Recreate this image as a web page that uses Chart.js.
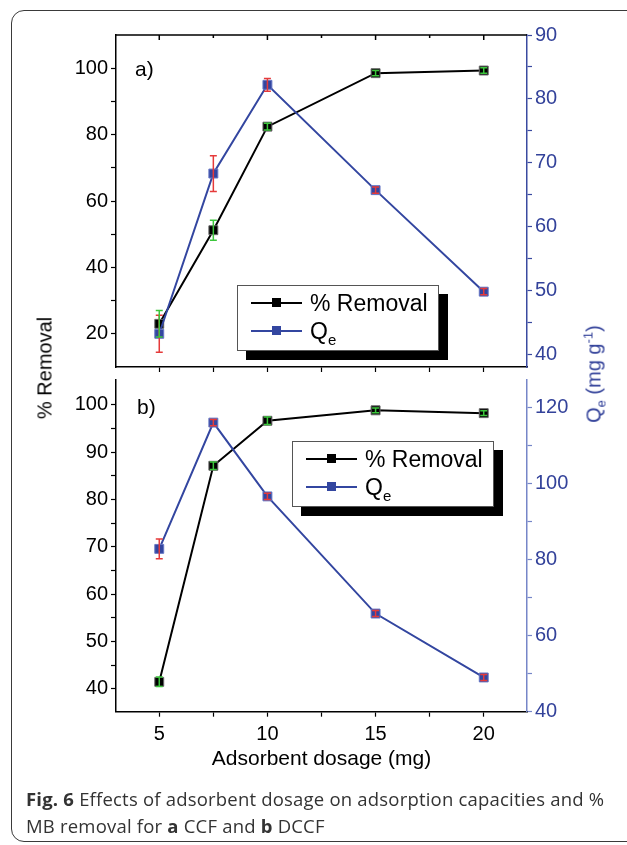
<!DOCTYPE html>
<html>
<head>
<meta charset="utf-8">
<script src="https://cdn.jsdelivr.net/npm/chart.js@4.4.1/dist/chart.umd.min.js"></script>
<style>
  body { margin: 0; background: #fff; width: 627px; height: 845px; overflow: hidden; position: relative;
         font-family: "Liberation Sans", Arial, sans-serif; }
  #frame { position: absolute; left: 11px; top: 10px; width: 700px; height: 830px;
           border: 1.5px solid #3a3a3a; border-radius: 13px; }
  #topWrap { position: absolute; left: 0; top: 0; width: 627px; height: 382px; }
  #botWrap { position: absolute; left: 0; top: 365px; width: 627px; height: 420px; }
  .legend { position: absolute; width: 200px; height: 64px; background: #fff;
            border: 1.5px solid #555; box-shadow: 9px 9px 0 #000; font-size: 23px; }
  .legend .row { position: absolute; left: 0; height: 28px; width: 200px; }
  .legend .ln { position: absolute; left: 13px; top: 13px; width: 51px; height: 2px; }
  .legend .mk { position: absolute; left: 34px; top: 9px; width: 9px; height: 9px; }
  .legend .tx { position: absolute; left: 72px; top: 0; line-height: 28px; white-space: nowrap; }
  .legend sub { font-size: 15px; vertical-align: -6px; line-height: 0; }
  .lab { position: absolute; font-size: 21px; line-height: 24px; }
  .ytitle { position: absolute; font-size: 20px; white-space: nowrap; transform: translate(-50%, -50%) rotate(-90deg); }
  .ytitle sub { font-size: 13px; vertical-align: -5px; line-height: 0; }
  .ytitle sup { font-size: 13px; vertical-align: 8px; line-height: 0; }
  #caption { position: absolute; left: 26px; top: 786px; width: 600px; font-family: "Open Sans", sans-serif;
             font-size: 18.5px; line-height: 26.7px; color: #333; letter-spacing: 0.2px; white-space: nowrap; }
</style>
</head>
<body>
<div id="frame"></div>
<div id="topWrap"><canvas id="chartA"></canvas></div>
<div id="botWrap"><canvas id="chartB"></canvas></div>

<div class="lab" style="left:135px; top:57px;">a)</div>
<div class="lab" style="left:137px; top:395px;">b)</div>

<div class="ytitle" style="left:45px; top:368px;">% Removal</div>
<div class="ytitle" style="left:594px; top:374px; color:#33429a;">Q<sub>e</sub> (mg g<sup>-1</sup>)</div>

<div class="legend" style="left:237px; top:285px;">
  <div class="row" style="top:3px;"><span class="ln" style="background:#000"></span><span class="mk" style="background:#000"></span><span class="tx">% Removal</span></div>
  <div class="row" style="top:31px;"><span class="ln" style="background:#3346a0"></span><span class="mk" style="background:#3346a0"></span><span class="tx">Q<sub>e</sub></span></div>
</div>
<div class="legend" style="left:292px; top:441px;">
  <div class="row" style="top:3px;"><span class="ln" style="background:#000"></span><span class="mk" style="background:#000"></span><span class="tx">% Removal</span></div>
  <div class="row" style="top:31px;"><span class="ln" style="background:#3346a0"></span><span class="mk" style="background:#3346a0"></span><span class="tx">Q<sub>e</sub></span></div>
</div>

<div id="caption"><b>Fig. 6</b> Effects of adsorbent dosage on adsorption capacities and %<br>MB removal for <b>a</b> CCF and <b>b</b> DCCF</div>

<script>
'use strict';

// adsorbent dosage (mg)
var dosage = [5, 7.5, 10, 15, 20];

// panel a) CCF
var removalA = [23.0, 51.2, 82.4, 98.5, 99.3];
var removalErrA = [4.0, 3.0, 1.0, 0.8, 0.8];
var qeA = [43.2, 68.3, 82.2, 65.7, 49.8];
var qeErrA = [2.9, 2.8, 1.0, 0.5, 0.5];

// panel b) DCCF
var removalB = [41.5, 87.1, 96.6, 98.8, 98.2];
var removalErrB = [1.0, 0.8, 0.8, 0.5, 0.5];
var qeB = [82.8, 116.0, 96.6, 65.8, 49.0];
var qeErrB = [2.6, 0.8, 0.8, 0.8, 0.8];

// tick positions (major ones get a label)
var xTicks = [5, 7.5, 10, 12.5, 15, 17.5, 20];
var xLabels = [5, 10, 15, 20];
var leftTicksA = [20, 30, 40, 50, 60, 70, 80, 90, 100];
var leftLabelsA = [20, 40, 60, 80, 100];
var rightTicksA = [40, 45, 50, 55, 60, 65, 70, 75, 80, 85, 90];
var rightLabelsA = [40, 50, 60, 70, 80, 90];
var leftTicksB = [40, 45, 50, 55, 60, 65, 70, 75, 80, 85, 90, 95, 100];
var leftLabelsB = [40, 50, 60, 70, 80, 90, 100];
var rightTicksB = [40, 50, 60, 70, 80, 90, 100, 110, 120];
var rightLabelsB = [40, 60, 80, 100, 120];

var blue = '#3346a0';
var blueText = '#33429a';

function pts(ys) {
   return dosage.map(function(x, i) { return { x: x, y: ys[i] }; });
}

function setTicks(values) {
   return function(scale) {
      scale.ticks = values.map(function(v) { return { value: v }; });
   };
}

function labelIf(labels) {
   return function(v) { return labels.indexOf(v) >= 0 ? String(v) : ''; };
}

// error bars drawn from each dataset's errors array
var errorBarPlugin = {
   id: 'errorBars',
   afterDatasetsDraw: function(chart) {
      var ctx = chart.ctx;
      var xs = chart.scales.x;
      chart.data.datasets.forEach(function(ds) {
         var ys = chart.scales[ds.yAxisID];
         ctx.save();
         ctx.strokeStyle = ds.errorColor;
         ctx.lineWidth = 1.5;
         ds.data.forEach(function(p, i) {
            var x = xs.getPixelForValue(p.x);
            var y1 = ys.getPixelForValue(p.y + ds.errors[i]);
            var y2 = ys.getPixelForValue(p.y - ds.errors[i]);
            ctx.beginPath();
            ctx.moveTo(x, y1); ctx.lineTo(x, y2);
            ctx.moveTo(x - 3.5, y1); ctx.lineTo(x + 3.5, y1);
            ctx.moveTo(x - 3.5, y2); ctx.lineTo(x + 3.5, y2);
            ctx.stroke();
         });
         ctx.restore();
      });
   }
};

// top frame line of a panel, with inward x ticks
var frameTopPlugin = {
   id: 'frameTop',
   afterDraw: function(chart, args, opts) {
      if (!opts.draw) return;
      var ctx = chart.ctx;
      var a = chart.chartArea;
      ctx.save();
      ctx.strokeStyle = '#000';
      ctx.lineWidth = 1.5;
      ctx.beginPath();
      ctx.moveTo(a.left, a.top); ctx.lineTo(a.right, a.top);
      xTicks.forEach(function(v) {
         var x = chart.scales.x.getPixelForValue(v);
         ctx.moveTo(x, a.top); ctx.lineTo(x, a.top + (xLabels.indexOf(v) >= 0 ? 5 : 3));
      });
      ctx.stroke();
      ctx.restore();
   }
};

function makeDatasets(removal, removalErr, qe, qeErr) {
   return [{
      label: 'Qe',
      data: pts(qe),
      yAxisID: 'yR',
      borderColor: blue,
      backgroundColor: blue,
      pointBackgroundColor: blue,
      pointBorderColor: '#6676c4',
      errors: qeErr,
      errorColor: '#e53a3a',
      order: 0
   }, {
      label: '% Removal',
      data: pts(removal),
      yAxisID: 'yL',
      borderColor: '#000',
      backgroundColor: '#000',
      pointBackgroundColor: '#000',
      pointBorderColor: '#666',
      errors: removalErr,
      errorColor: '#3cc63c',
      order: 1
   }];
}

function yAxis(pos, min, max, ticks, labels, width, color, lineColor) {
   return {
      type: 'linear',
      position: pos,
      min: min,
      max: max,
      afterBuildTicks: setTicks(ticks),
      afterFit: function(s) { s.width = width; },
      border: { display: true, color: lineColor, width: 1.5 },
      grid: { drawOnChartArea: false, drawTicks: true, tickLength: 5, tickColor: lineColor, tickWidth: 1.2 },
      ticks: {
         color: color,
         padding: 3,
         autoSkip: false,
         font: { family: 'Liberation Sans', size: 20 },
         callback: labelIf(labels)
      }
   };
}

function baseOptions() {
   return {
      responsive: false,
      animation: false,
      devicePixelRatio: 1,
      showLine: true,
      elements: {
         line: { borderWidth: 2, tension: 0 },
         point: { pointStyle: 'rect', radius: 6.3, borderWidth: 1 }
      },
      plugins: { legend: { display: false }, tooltip: { enabled: false } }
   };
}

// panel a)
var optA = baseOptions();
optA.layout = { padding: { top: 35, left: 0, right: 0, bottom: 0 } };
optA.plugins.frameTop = { draw: true };
optA.scales = {
   x: {
      type: 'linear',
      position: 'bottom',
      min: 3,
      max: 22,
      afterBuildTicks: setTicks(xTicks),
      afterFit: function(s) { s.height = 9; },
      border: { display: true, color: '#000', width: 1.5 },
      grid: { drawOnChartArea: false, drawTicks: true, tickLength: 5, tickColor: '#000', tickWidth: 1.2 },
      ticks: { display: false }
   },
   yL: yAxis('left', 10, 110, leftTicksA, leftLabelsA, 116, '#000', '#000'),
   yR: yAxis('right', 38, 90, rightTicksA, rightLabelsA, 100, blueText, '#3a4aa0')
};

var canvasA = document.getElementById('chartA');
canvasA.width = 627; canvasA.height = 382;
new Chart(canvasA, {
   type: 'scatter',
   data: { datasets: makeDatasets(removalA, removalErrA, qeA, qeErrA) },
   options: optA,
   plugins: [errorBarPlugin, frameTopPlugin]
});

// panel b)
var optB = baseOptions();
optB.layout = { padding: { top: 8, left: 0, right: 0, bottom: 0 } };
optB.plugins.frameTop = { draw: false };
optB.scales = {
   x: {
      type: 'linear',
      position: 'bottom',
      min: 3,
      max: 22,
      afterBuildTicks: setTicks(xTicks),
      afterFit: function(s) { s.height = 73.3; },
      border: { display: true, color: '#000', width: 1.5 },
      grid: { drawOnChartArea: false, drawTicks: true, tickLength: 5, tickColor: '#000', tickWidth: 1.2 },
      title: {
         display: true,
         text: 'Adsorbent dosage (mg)',
         color: '#000',
         font: { family: 'Liberation Sans', size: 21 },
         padding: { top: 4, bottom: 13 }
      },
      ticks: {
         color: '#000',
         padding: 6,
         autoSkip: false,
         maxRotation: 0,
         font: { family: 'Liberation Sans', size: 20 },
         callback: labelIf(xLabels)
      }
   },
   yL: yAxis('left', 35.2, 105.2, leftTicksB, leftLabelsB, 116, '#000', '#000'),
   yR: yAxis('right', 40, 127.2, rightTicksB, rightLabelsB, 100, blueText, '#7686c8')
};

var canvasB = document.getElementById('chartB');
canvasB.width = 627; canvasB.height = 420;
new Chart(canvasB, {
   type: 'scatter',
   data: { datasets: makeDatasets(removalB, removalErrB, qeB, qeErrB) },
   options: optB,
   plugins: [errorBarPlugin]
});
</script>
</body>
</html>
